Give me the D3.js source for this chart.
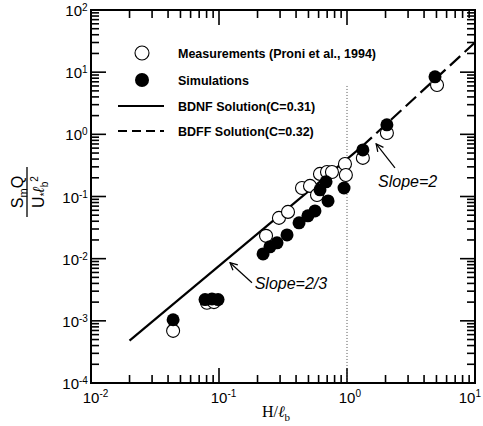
<!DOCTYPE html>
<html>
<head>
<meta charset="utf-8">
<script src="https://cdn.jsdelivr.net/npm/d3@7"></script>
<style>
  body { margin: 0; background: #fff; }
  text { font-family: "Liberation Sans", Arial, sans-serif; fill: #000; }
</style>
</head>
<body>
<div id="vis"></div>
<script>
// Measurements (Proni et al., 1994) - open circles
const measX = [0.0438, 0.0805, 0.0914, 0.233, 0.294, 0.346, 0.445, 0.514, 0.583, 0.615, 0.698, 0.763, 0.964, 0.98, 1.33, 2.05, 5.05];
const measY = [6.9e-4, 1.95e-3, 2.0e-3, 0.0233, 0.0453, 0.0565, 0.137, 0.148, 0.106, 0.231, 0.248, 0.248, 0.334, 0.222, 0.418, 1.05, 6.2];

// Simulations - filled circles
const simX = [0.0438, 0.0778, 0.0881, 0.0983, 0.221, 0.25, 0.284, 0.34, 0.422, 0.495, 0.562, 0.711, 0.615, 0.686, 0.948, 1.33, 2.05, 4.87];
const simY = [1.04e-3, 2.2e-3, 2.25e-3, 2.2e-3, 0.0119, 0.0155, 0.018, 0.0241, 0.0377, 0.0488, 0.0586, 0.085, 0.128, 0.172, 0.137, 0.561, 1.42, 8.4];

// BDNF solution (solid) and BDFF solution (dashed)
const bdnfX = [0.02, 1.3];
const bdnfY = [4.8e-4, 0.63];
const bdffX = [1.3, 10];
const bdffY = [0.63, 30];

// vertical dotted reference at H/lb = 1
const refX = [1, 1];
const refY = [6, 1e-4];

// axis tick labels
const xMajor = [1e-2, 1e-1, 1e0, 1e1];
const xExp = ["-2", "-1", "0", "1"];
const yMajor = [1e-4, 1e-3, 1e-2, 1e-1, 1e0, 1e1, 1e2];
const yExp = ["-4", "-3", "-2", "-1", "0", "1", "2"];

// legend entries
const legendLabels = ["Measurements (Proni et al., 1994)", "Simulations", "BDNF Solution(C=0.31)", "BDFF Solution(C=0.32)"];

// slope annotations: [tipX, tipY, tailX, tailY, textX, textY]
const slopeLabels = ["Slope=2/3", "Slope=2"];
const slopeArrows = [
  [0.122, 0.0086, 0.181, 0.0041, 0.19, 0.0033],
  [1.69, 0.70, 2.37, 0.288, 1.75, 0.14]
];

const width = 483;
const height = 426;
const margin = { left: 91, top: 10, right: 8, bottom: 43 };

const svg = d3.select("#vis").append("svg")
  .attr("width", width)
  .attr("height", height);

const x = d3.scaleLog().domain([1e-2, 1e1]).range([margin.left, width - margin.right]);
const y = d3.scaleLog().domain([1e-4, 1e2]).range([height - margin.bottom, margin.top]);

const x0 = x.range()[0], x1 = x.range()[1];
const y0 = y.range()[0], y1 = y.range()[1];

svg.append("defs").append("marker")
  .attr("id", "arrow")
  .attr("viewBox", "0 0 10 10")
  .attr("refX", 9)
  .attr("refY", 5)
  .attr("markerWidth", 9)
  .attr("markerHeight", 9)
  .attr("markerUnits", "userSpaceOnUse")
  .attr("orient", "auto")
  .append("path")
  .attr("d", "M1,1 L9,5 L1,9")
  .attr("fill", "none")
  .attr("stroke", "#000")
  .attr("stroke-width", 1.4);

// ticks on all four sides, pointing inward
function isMajor(t) {
  const l = Math.log10(t);
  return Math.abs(l - Math.round(l)) < 1e-9;
}
const tickG = svg.append("g").attr("stroke", "#000").attr("stroke-width", 1.6);
x.ticks().forEach(function (t) {
  const len = isMajor(t) ? 15 : 8;
  tickG.append("line").attr("x1", x(t)).attr("x2", x(t)).attr("y1", y0).attr("y2", y0 - len);
  tickG.append("line").attr("x1", x(t)).attr("x2", x(t)).attr("y1", y1).attr("y2", y1 + len);
});
y.ticks().forEach(function (t) {
  const len = isMajor(t) ? 15 : 8;
  tickG.append("line").attr("x1", x0).attr("x2", x0 + len).attr("y1", y(t)).attr("y2", y(t));
  tickG.append("line").attr("x1", x1).attr("x2", x1 - len).attr("y1", y(t)).attr("y2", y(t));
});

// frame
svg.append("rect")
  .attr("x", x0).attr("y", y1)
  .attr("width", x1 - x0).attr("height", y0 - y1)
  .attr("fill", "none")
  .attr("stroke", "#000")
  .attr("stroke-width", 2);

// x tick labels ("10" centred on the tick, last one kept inside the page)
xMajor.forEach(function (t, i) {
  let cx = x(t);
  if (i === xMajor.length - 1) cx = width - 16;
  svg.append("text").attr("x", cx).attr("y", 403)
    .attr("text-anchor", "middle").style("font-size", "15px").text("10");
  svg.append("text").attr("x", cx + 8.5).attr("y", 397)
    .style("font-size", "10px").text(xExp[i]);
});

// y tick labels
yMajor.forEach(function (t, i) {
  const cy = y(t);
  const e = yExp[i];
  const supW = e.length > 1 ? 9 : 6;
  svg.append("text").attr("x", x0 - 3 - supW).attr("y", cy + 6)
    .attr("text-anchor", "end").style("font-size", "15px").text("10");
  svg.append("text").attr("x", x0 - 3 - supW).attr("y", cy + 1)
    .style("font-size", "10px").text(e);
});

// x axis title
const xt = svg.append("text").attr("x", 276).attr("y", 417)
  .attr("text-anchor", "middle")
  .style("font-family", "'Liberation Serif', 'Times New Roman', serif")
  .style("font-size", "16px");
xt.append("tspan").text("H/");
xt.append("tspan").style("font-style", "italic").text("ℓ");
xt.append("tspan").attr("dy", 4).style("font-size", "11px").text("b");

// y axis title (rotated fraction)
const yt = svg.append("g").attr("transform", "translate(27,192) rotate(-90)");
yt.append("line").attr("x1", -25).attr("x2", 25).attr("y1", 0).attr("y2", 0)
  .attr("stroke", "#000").attr("stroke-width", 1.3);
const num = yt.append("text").attr("x", 0).attr("y", -4)
  .attr("text-anchor", "middle").style("font-size", "16px");
num.append("tspan").text("S");
num.append("tspan").attr("dy", 4).style("font-size", "11px").text("m");
num.append("tspan").attr("dy", -4).text("Q");
const den = yt.append("text").attr("x", 0).attr("y", 17)
  .attr("text-anchor", "middle").style("font-size", "16px");
den.append("tspan").text("U");
den.append("tspan").attr("dy", 4).style("font-size", "10px").text("*");
den.append("tspan").attr("dy", -4).style("font-style", "italic").text("ℓ");
den.append("tspan").attr("dy", 4).style("font-size", "10px").text("b");
den.append("tspan").attr("dy", -10).style("font-size", "10px").text("2");

// dotted reference line at x = 1
svg.append("line")
  .attr("x1", x(refX[0])).attr("x2", x(refX[1]))
  .attr("y1", y(refY[0])).attr("y2", y(refY[1]))
  .attr("stroke", "#555").attr("stroke-width", 1)
  .attr("stroke-dasharray", "1,2");

// solution lines
const line = d3.line().x(d => x(d[0])).y(d => y(d[1]));
svg.append("path")
  .attr("d", line(d3.zip(bdnfX, bdnfY)))
  .attr("fill", "none").attr("stroke", "#000").attr("stroke-width", 2.2);
svg.append("path")
  .attr("d", line(d3.zip(bdffX, bdffY)))
  .attr("fill", "none").attr("stroke", "#000").attr("stroke-width", 2.2)
  .attr("stroke-dasharray", "14,6");

// measurement points
svg.append("g").selectAll("circle")
  .data(d3.zip(measX, measY))
  .enter().append("circle")
  .attr("cx", d => x(d[0])).attr("cy", d => y(d[1]))
  .attr("r", 6.5)
  .attr("fill", "#fff").attr("stroke", "#000").attr("stroke-width", 1.1);

// simulation points
svg.append("g").selectAll("circle")
  .data(d3.zip(simX, simY))
  .enter().append("circle")
  .attr("cx", d => x(d[0])).attr("cy", d => y(d[1]))
  .attr("r", 6.5)
  .attr("fill", "#000");

// slope annotations
slopeArrows.forEach(function (a, i) {
  svg.append("line")
    .attr("x1", x(a[2])).attr("y1", y(a[3]))
    .attr("x2", x(a[0])).attr("y2", y(a[1]))
    .attr("stroke", "#000").attr("stroke-width", 1.2)
    .attr("marker-end", "url(#arrow)");
  svg.append("text")
    .attr("x", x(a[4])).attr("y", y(a[5]))
    .style("font-size", "16px").style("font-style", "italic")
    .text(slopeLabels[i]);
});

// legend
const legend = svg.append("g").attr("class", "legend");
const legendY = [53, 80, 106, 131];
legend.append("circle").attr("cx", 142).attr("cy", legendY[0]).attr("r", 7)
  .attr("fill", "#fff").attr("stroke", "#000").attr("stroke-width", 1.1);
legend.append("circle").attr("cx", 142).attr("cy", legendY[1]).attr("r", 7)
  .attr("fill", "#000");
legend.append("line").attr("x1", 118).attr("x2", 164).attr("y1", legendY[2]).attr("y2", legendY[2])
  .attr("stroke", "#000").attr("stroke-width", 1.8);
legend.append("line").attr("x1", 118).attr("x2", 164).attr("y1", legendY[3]).attr("y2", legendY[3])
  .attr("stroke", "#000").attr("stroke-width", 1.8).attr("stroke-dasharray", "9,5");
legendLabels.forEach(function (lab, i) {
  legend.append("text").attr("x", 178).attr("y", legendY[i] + 5)
    .style("font-size", "12.5px").style("font-weight", "bold")
    .text(lab);
});
</script>
</body>
</html>
